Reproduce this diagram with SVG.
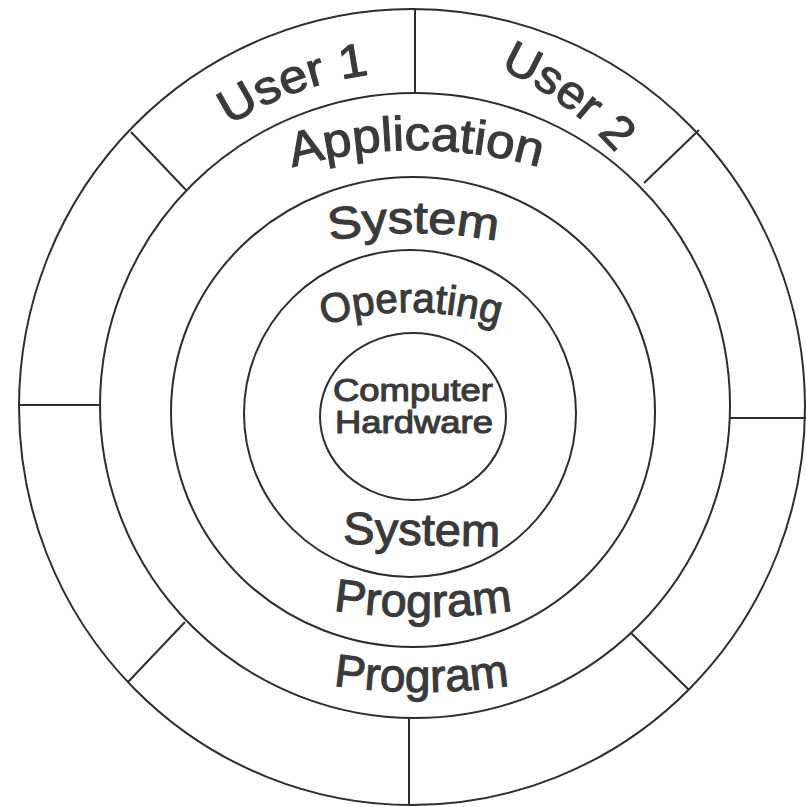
<svg xmlns="http://www.w3.org/2000/svg" width="806" height="807" viewBox="0 0 806 807">
  <style>
    .ring { fill: none; stroke: #2e2e2e; stroke-width: 2; }
    .div { stroke: #2e2e2e; stroke-width: 2; fill: none; }
    .lbl { font-family: "Liberation Sans", Arial, Helvetica, sans-serif; fill: #3a3a3a; stroke: #3a3a3a; stroke-width: 1.1; }
  </style>
  <defs>
    <path id="pUser1" d="M153.1,192.7 A338,338 0 0,1 470.7,77.1"/>
    <path id="pUser2" d="M396,40.9 A344,344 0 0,1 674.3,243.1"/>
    <path id="pApp" d="M191,210.3 A450,450 0 0,1 641,210.3"/>
    <path id="pSys1" d="M188.5,293.3 A450,450 0 0,1 638.5,293.3"/>
    <path id="pOp" d="M198.9,399.9 A300,300 0 0,1 623.1,399.9"/>
    <path id="pProg1" d="M123,536.6 A600,600 0 0,0 723,536.6"/>
    <path id="pProg2" d="M121.5,611.6 A600,600 0 0,0 721.5,611.6"/>
  </defs>
  <rect width="806" height="807" fill="#ffffff"/>

  <g id="users">
    <ellipse class="ring" cx="412" cy="407" rx="393" ry="398"/>
    <text class="lbl" font-size="47"><textPath href="#pUser1" startOffset="50%" text-anchor="middle" textLength="150" lengthAdjust="spacingAndGlyphs">User 1</textPath></text>
    <text class="lbl" font-size="47"><textPath href="#pUser2" startOffset="50%" text-anchor="middle" textLength="145" lengthAdjust="spacingAndGlyphs">User 2</textPath></text>
  </g>

  <g id="application-program">
    <ellipse class="ring" cx="415" cy="405.5" rx="315" ry="312.5"/>
    <text class="lbl" font-size="48"><textPath href="#pApp" startOffset="50%" text-anchor="middle" textLength="250" lengthAdjust="spacingAndGlyphs">Application</textPath></text>
    <text class="lbl" font-size="46"><textPath href="#pProg2" startOffset="50%" text-anchor="middle" textLength="177" lengthAdjust="spacingAndGlyphs">Program</textPath></text>
  </g>

  <g id="system-program">
    <ellipse class="ring" cx="413" cy="412" rx="242" ry="235"/>
    <text class="lbl" font-size="45"><textPath href="#pSys1" startOffset="50%" text-anchor="middle" textLength="168" lengthAdjust="spacingAndGlyphs">System</textPath></text>
    <text class="lbl" font-size="46"><textPath href="#pProg1" startOffset="50%" text-anchor="middle" textLength="180" lengthAdjust="spacingAndGlyphs">Program</textPath></text>
  </g>

  <g id="operating-system">
    <ellipse class="ring" cx="410" cy="413.5" rx="166" ry="163.5"/>
    <text class="lbl" font-size="41"><textPath href="#pOp" startOffset="50%" text-anchor="middle" textLength="177" lengthAdjust="spacingAndGlyphs">Operating</textPath></text>
    <text class="lbl" font-size="45" text-anchor="middle" x="421.5" y="545" textLength="157" lengthAdjust="spacingAndGlyphs" transform="rotate(1 421.5 545)">System</text>
  </g>

  <g id="computer-hardware">
    <ellipse class="ring" cx="413" cy="416.5" rx="93" ry="83.5"/>
    <text class="lbl" font-size="32" text-anchor="middle" x="413" y="401" textLength="160" lengthAdjust="spacingAndGlyphs">Computer</text>
    <text class="lbl" font-size="32" text-anchor="middle" x="414" y="433" textLength="158" lengthAdjust="spacingAndGlyphs">Hardware</text>
  </g>

  <g id="connectors">
    <line class="div" x1="415" y1="8" x2="415" y2="93"/>
    <line class="div" x1="131" y1="132" x2="186" y2="190"/>
    <line class="div" x1="699" y1="130" x2="644" y2="183"/>
    <line class="div" x1="18" y1="405" x2="100" y2="405"/>
    <line class="div" x1="730" y1="418" x2="806" y2="418"/>
    <line class="div" x1="185" y1="622" x2="128" y2="682"/>
    <line class="div" x1="631" y1="633" x2="689" y2="690"/>
    <line class="div" x1="409" y1="718" x2="409" y2="805"/>
  </g>
</svg>
